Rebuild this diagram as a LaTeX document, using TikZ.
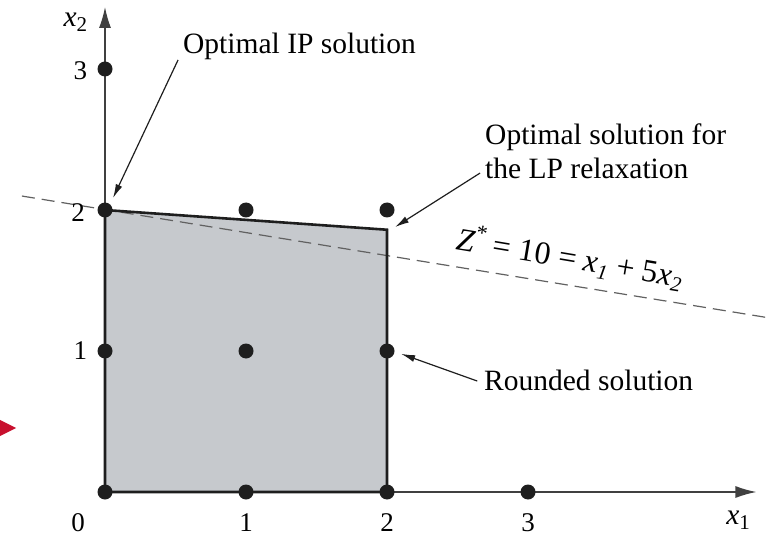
\documentclass[tikz,border=0pt]{standalone}
\usepackage{fontspec}
\setmainfont{Liberation Serif}
\usetikzlibrary{arrows.meta}
\newcommand{\xvar}[1]{\textit{x}\raisebox{-0.35ex}{\fontsize{21}{24}\selectfont\textit{#1}}}
\newcommand{\xax}[1]{\textit{x}\raisebox{-0.35ex}{\fontsize{21}{24}\selectfont #1}}
\definecolor{regiongray}{RGB}{198,201,205}
\definecolor{inkdark}{RGB}{30,30,30}
\definecolor{markred}{RGB}{200,16,46}
\tikzset{
  axisline/.style={draw=inkdark!85, line width=1.4pt},
  axisarrow/.style={-{Latex[length=21pt,width=12pt]}},
  regionedge/.style={draw=inkdark, line width=2.6pt, line join=miter},
  dotnode/.style={circle, fill=inkdark, inner sep=0pt, minimum size=15pt},
  leader/.style={draw=inkdark, line width=1.2pt, -{Latex[length=14pt,width=7pt]}},
  objline/.style={draw=inkdark!70, line width=1.2pt, dash pattern=on 13pt off 7pt},
  lbl/.style={font=\fontsize{29.5}{34}\selectfont, inner sep=0pt},
  ticklbl/.style={font=\fontsize{27}{30}\selectfont, inner sep=0pt}
}
\begin{document}
\begin{tikzpicture}[x=141pt,y=141pt]
\useasboundingbox (-0.7447,-0.3191) rectangle (4.7943,3.4894);
% red marker
\fill[markred] (-0.7447,0.511) -- (-0.631,0.454) -- (-0.7447,0.397) -- cycle;
% coordinates
\coordinate (o) at (0,0);
\coordinate (xend) at (4.62,0);
\coordinate (yend) at (0,3.44);
\coordinate (lpc) at (2,1.86);
% region fill
\fill[regiongray] (0,0) -- (0,2) -- (lpc) -- (2,0) -- cycle;
% objective line
\coordinate (objL) at (-0.589,2.099);
\coordinate (objR) at (4.716,1.234);
\draw[objline] (objL) -- (objR);
% axes
\draw[axisline, axisarrow] (o) -- (xend);
\draw[axisline, axisarrow] (o) -- (yend);
% region border
\draw[regionedge] (0,0) -- (0,2) -- (lpc) -- (2,0) -- cycle;
% dots
\foreach \i/\j in {0/0,1/0,2/0,3/0,0/1,1/1,2/1,0/2,1/2,2/2,0/3}
  \node[dotnode] (p\i\j) at (\i,\j) {};
% tick labels
\node[ticklbl] (t0) at (-0.19,-0.22) {0};
\node[ticklbl] (tx1) at (1,-0.215) {1};
\node[ticklbl] (tx2) at (2,-0.215) {2};
\node[ticklbl] (tx3) at (3,-0.215) {3};
\node[ticklbl] (ty1) at (-0.175,1) {1};
\node[ticklbl] (ty2) at (-0.19,1.985) {2};
\node[ticklbl] (ty3) at (-0.175,2.99) {3};
\node[lbl] (xl1) at (4.49,-0.2) {\xax{1}};
\node[lbl] (xl2) at (-0.21,3.33) {\xax{2}};
% annotation labels
\node[lbl, anchor=base west] (ipl) at (0.553,3.113) {Optimal IP solution};
\node[lbl, anchor=base west, align=left] (lpl) at (2.695,2.22) {Optimal solution for\\the LP relaxation};
\node[lbl, anchor=base west] (rdl) at (2.688,0.723) {Rounded solution};
\node[lbl, font=\fontsize{32}{36}\selectfont, rotate=-9.5] (zl) at (3.298,1.665) {\textit{Z}\raisebox{0.9ex}{\fontsize{22}{24}\selectfont *} = 10 = \xvar{1} + 5\xvar{2}};
% leaders
\coordinate (ipS) at (0.518,3.064);
\coordinate (ipT) at (0.057,2.085);
\coordinate (lpS) at (2.66,2.262);
\coordinate (lpT) at (2.057,1.879);
\coordinate (rdS) at (2.64,0.787);
\coordinate (rdT) at (2.10,0.98);
\draw[leader] (ipS) -- (ipT);
\draw[leader] (lpS) -- (lpT);
\draw[leader] (rdS) -- (rdT);
\end{tikzpicture}
\end{document}
